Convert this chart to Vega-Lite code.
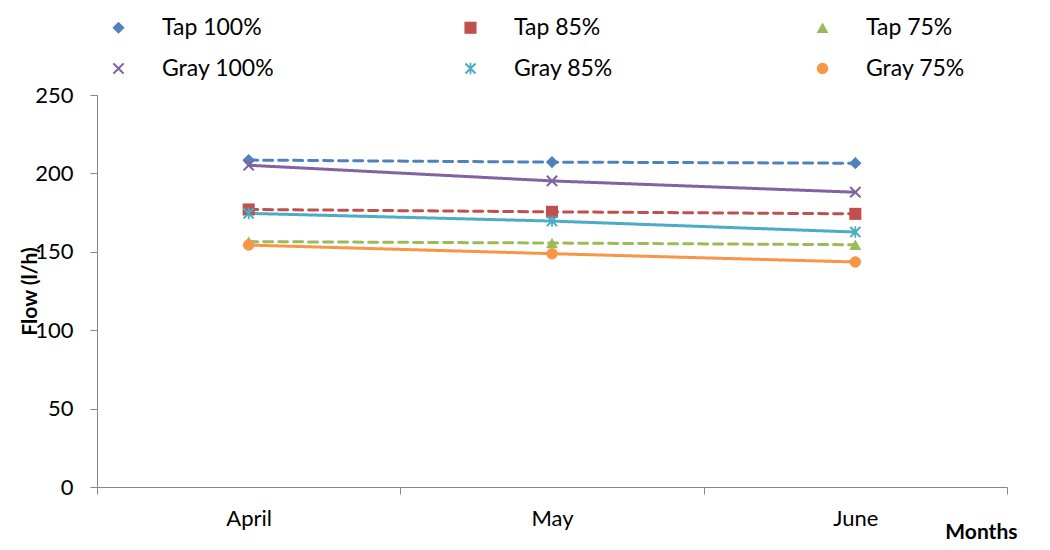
{
  "$schema": "https://vega.github.io/schema/vega-lite/v6.json",
  "width": 910,
  "height": 392,
  "autosize": {"type": "none"},
  "padding": {"left": 97, "top": 95, "right": 43, "bottom": 63},
  "background": "white",
  "config": {
    "font": "Lato",
    "view": {"stroke": null},
    "axis": {"grid": false, "domainColor": "#868686", "tickColor": "#868686", "labelColor": "#000000", "labelFont": "Lato", "labelFontSize": 22, "titleFont": "Lato", "titleFontSize": 21, "titleFontWeight": "bold", "titleColor": "#000000"},
    "legend": {"labelFont": "Lato", "labelFontSize": 23, "labelColor": "#000000"}
  },
  "data": {
    "values": [
      {"series": "Tap 100%", "month": "April", "flow": 208.5},
      {"series": "Tap 100%", "month": "May", "flow": 207.2},
      {"series": "Tap 100%", "month": "June", "flow": 206.5},
      {"series": "Tap 85%", "month": "April", "flow": 177},
      {"series": "Tap 85%", "month": "May", "flow": 175.5},
      {"series": "Tap 85%", "month": "June", "flow": 174.2},
      {"series": "Tap 75%", "month": "April", "flow": 156.5},
      {"series": "Tap 75%", "month": "May", "flow": 155.6},
      {"series": "Tap 75%", "month": "June", "flow": 154.5},
      {"series": "Gray 100%", "month": "April", "flow": 205.2},
      {"series": "Gray 100%", "month": "May", "flow": 195.2},
      {"series": "Gray 100%", "month": "June", "flow": 188},
      {"series": "Gray 85%", "month": "April", "flow": 174.5},
      {"series": "Gray 85%", "month": "May", "flow": 169.6},
      {"series": "Gray 85%", "month": "June", "flow": 162.6},
      {"series": "Gray 75%", "month": "April", "flow": 154.3},
      {"series": "Gray 75%", "month": "May", "flow": 148.8},
      {"series": "Gray 75%", "month": "June", "flow": 143.5}
    ]
  },
  "encoding": {
    "x": {
      "field": "month", "type": "ordinal", "sort": ["April", "May", "June"],
      "bandPosition": 0.5,
      "scale": {"type": "band", "paddingInner": 0, "paddingOuter": 0},
      "axis": {"title": "Months", "labelAngle": 0, "tickBand": "extent", "tickSize": 7, "labelPadding": 14, "titleAnchor": "end", "titleAlign": "right", "titleBaseline": "alphabetic", "titleX": 920, "titleY": 51}
    },
    "y": {
      "field": "flow", "type": "quantitative",
      "scale": {"domain": [0, 250]},
      "axis": {"title": "Flow (l/h)", "values": [0, 50, 100, 150, 200, 250], "tickSize": 7, "labelPadding": 17, "titleX": -57, "titleY": 196, "titleAlign": "center"}
    },
    "color": {
      "field": "series", "type": "nominal",
      "scale": {"domain": ["Tap 100%", "Tap 85%", "Tap 75%", "Gray 100%", "Gray 85%", "Gray 75%"], "range": ["#4F81BD", "#C0504D", "#9BBB59", "#8064A2", "#4BACC6", "#F79646"]},
      "legend": {"title": null, "orient": "none", "legendX": 10, "legendY": -79, "columns": 3, "direction": "horizontal", "gridAlign": "all", "columnPadding": 184, "rowPadding": 17, "symbolSize": 200, "labelOffset": 32, "symbolStrokeWidth": 0}
    }
  },
  "layer": [
    {
      "mark": {"type": "line", "strokeWidth": 3, "strokeCap": "round"},
      "encoding": {
        "strokeDash": {
          "field": "series", "type": "nominal",
          "scale": {"domain": ["Tap 100%", "Tap 85%", "Tap 75%", "Gray 100%", "Gray 85%", "Gray 75%"], "range": [[9, 6], [9, 6], [9, 6], [1, 0], [1, 0], [1, 0]]},
          "legend": null
        }
      }
    },
    {
      "mark": {"type": "point", "filled": true, "opacity": 1},
      "encoding": {
        "shape": {
          "field": "series", "type": "nominal",
          "scale": {"domain": ["Tap 100%", "Tap 85%", "Tap 75%", "Gray 100%", "Gray 85%", "Gray 75%"], "range": ["diamond", "square", "triangle-up", "M-1,-0.75L-0.75,-1L0,-0.25L0.75,-1L1,-0.75L0.25,0L1,0.75L0.75,1L0,0.25L-0.75,1L-1,0.75L-0.25,0Z", "M-1,-0.75L-0.75,-1L0,-0.25L0.75,-1L1,-0.75L0.25,0L1,0.75L0.75,1L0,0.25L-0.75,1L-1,0.75L-0.25,0ZM-0.15,-1L0.15,-1L0.15,1L-0.15,1Z", "circle"]}
        },
        "size": {
          "field": "series", "type": "nominal",
          "scale": {"domain": ["Tap 100%", "Tap 85%", "Tap 75%", "Gray 100%", "Gray 85%", "Gray 75%"], "range": [150, 130, 110, 150, 150, 220]},
          "legend": null
        }
      }
    }
  ]
}
